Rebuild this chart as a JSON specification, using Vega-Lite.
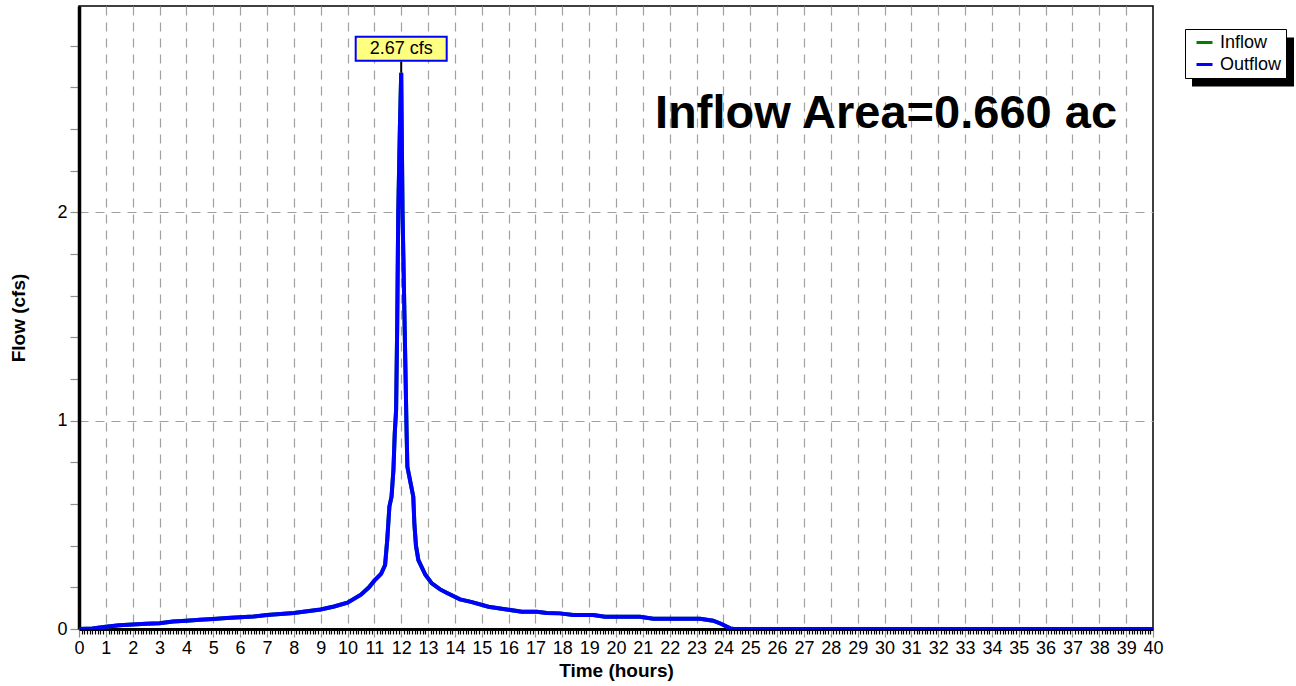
{
  "$schema": "https://vega.github.io/schema/vega-lite/v6.json",
  "width": 1074,
  "height": 623,
  "autosize": {"type": "none"},
  "padding": {"left": 79, "top": 6, "right": 143, "bottom": 57},
  "background": "white",
  "config": {
    "font": "Liberation Sans",
    "view": {"stroke": "black", "strokeWidth": 1.5}
  },
  "datasets": {
    "hydro": [
      {"t": 0, "Inflow": 0, "Outflow": 0},
      {"t": 0.5, "Inflow": 0.002, "Outflow": 0.002},
      {"t": 1, "Inflow": 0.011, "Outflow": 0.011},
      {"t": 1.5, "Inflow": 0.018, "Outflow": 0.018},
      {"t": 2, "Inflow": 0.022, "Outflow": 0.022},
      {"t": 2.5, "Inflow": 0.025, "Outflow": 0.025},
      {"t": 3, "Inflow": 0.028, "Outflow": 0.028},
      {"t": 3.5, "Inflow": 0.036, "Outflow": 0.036},
      {"t": 4, "Inflow": 0.04, "Outflow": 0.04},
      {"t": 4.5, "Inflow": 0.044, "Outflow": 0.044},
      {"t": 5, "Inflow": 0.048, "Outflow": 0.048},
      {"t": 5.5, "Inflow": 0.053, "Outflow": 0.053},
      {"t": 6, "Inflow": 0.056, "Outflow": 0.056},
      {"t": 6.5, "Inflow": 0.06, "Outflow": 0.06},
      {"t": 7, "Inflow": 0.067, "Outflow": 0.067},
      {"t": 7.5, "Inflow": 0.072, "Outflow": 0.072},
      {"t": 8, "Inflow": 0.077, "Outflow": 0.077},
      {"t": 8.5, "Inflow": 0.085, "Outflow": 0.085},
      {"t": 9, "Inflow": 0.094, "Outflow": 0.094},
      {"t": 9.5, "Inflow": 0.108, "Outflow": 0.108},
      {"t": 10, "Inflow": 0.126, "Outflow": 0.126},
      {"t": 10.5, "Inflow": 0.165, "Outflow": 0.165},
      {"t": 10.8, "Inflow": 0.2, "Outflow": 0.2},
      {"t": 11, "Inflow": 0.232, "Outflow": 0.232},
      {"t": 11.25, "Inflow": 0.265, "Outflow": 0.265},
      {"t": 11.4, "Inflow": 0.307, "Outflow": 0.307},
      {"t": 11.48, "Inflow": 0.427, "Outflow": 0.427},
      {"t": 11.56, "Inflow": 0.587, "Outflow": 0.587},
      {"t": 11.64, "Inflow": 0.635, "Outflow": 0.635},
      {"t": 11.71, "Inflow": 0.763, "Outflow": 0.763},
      {"t": 11.76, "Inflow": 0.94, "Outflow": 0.94},
      {"t": 11.81, "Inflow": 1.05, "Outflow": 1.05},
      {"t": 11.85, "Inflow": 1.45, "Outflow": 1.45},
      {"t": 11.89, "Inflow": 2.0, "Outflow": 2.0},
      {"t": 11.95, "Inflow": 2.4, "Outflow": 2.4},
      {"t": 12, "Inflow": 2.67, "Outflow": 2.67},
      {"t": 12.05, "Inflow": 2.0, "Outflow": 2.0},
      {"t": 12.1, "Inflow": 1.65, "Outflow": 1.65},
      {"t": 12.15, "Inflow": 1.3, "Outflow": 1.3},
      {"t": 12.2, "Inflow": 0.95, "Outflow": 0.95},
      {"t": 12.23, "Inflow": 0.778, "Outflow": 0.778},
      {"t": 12.45, "Inflow": 0.635, "Outflow": 0.635},
      {"t": 12.49, "Inflow": 0.507, "Outflow": 0.507},
      {"t": 12.55, "Inflow": 0.4, "Outflow": 0.4},
      {"t": 12.64, "Inflow": 0.331, "Outflow": 0.331},
      {"t": 12.9, "Inflow": 0.26, "Outflow": 0.26},
      {"t": 13.14, "Inflow": 0.219, "Outflow": 0.219},
      {"t": 13.45, "Inflow": 0.19, "Outflow": 0.19},
      {"t": 13.69, "Inflow": 0.174, "Outflow": 0.174},
      {"t": 14.19, "Inflow": 0.142, "Outflow": 0.142},
      {"t": 14.6, "Inflow": 0.13, "Outflow": 0.13},
      {"t": 15.25, "Inflow": 0.107, "Outflow": 0.107},
      {"t": 15.93, "Inflow": 0.094, "Outflow": 0.094},
      {"t": 16.49, "Inflow": 0.083, "Outflow": 0.083},
      {"t": 17.05, "Inflow": 0.083, "Outflow": 0.083},
      {"t": 17.42, "Inflow": 0.077, "Outflow": 0.077},
      {"t": 17.91, "Inflow": 0.075, "Outflow": 0.075},
      {"t": 18.41, "Inflow": 0.067, "Outflow": 0.067},
      {"t": 19.15, "Inflow": 0.067, "Outflow": 0.067},
      {"t": 19.59, "Inflow": 0.059, "Outflow": 0.059},
      {"t": 20.89, "Inflow": 0.059, "Outflow": 0.059},
      {"t": 21.39, "Inflow": 0.049, "Outflow": 0.049},
      {"t": 23.13, "Inflow": 0.049, "Outflow": 0.049},
      {"t": 23.62, "Inflow": 0.04, "Outflow": 0.04},
      {"t": 23.93, "Inflow": 0.024, "Outflow": 0.024},
      {"t": 24.25, "Inflow": 0.003, "Outflow": 0.003},
      {"t": 24.4, "Inflow": 0, "Outflow": 0},
      {"t": 40, "Inflow": 0, "Outflow": 0}
    ],
    "peak": [{"t": 12, "Q": 2.67, "label": "2.67 cfs"}],
    "shadow": []
  },
  "layer": [
    {
      "data": {"name": "shadow"},
      "mark": {"type": "point", "filled": true, "color": "black", "opacity": 1},
      "encoding": {
        "shape": {
          "field": "entry",
          "type": "nominal",
          "scale": {"domain": ["shadow"], "range": ["M-1,-0.48H1V0.48H-1Z"]},
          "legend": {
            "orient": "none",
            "legendX": 1112,
            "legendY": 4,
            "title": null,
            "padding": 0,
            "symbolSize": 10404,
            "symbolFillColor": "black",
            "symbolStrokeColor": "black",
            "symbolOpacity": 1,
            "symbolOffset": 0,
            "labelOffset": 0,
            "labelExpr": "''",
            "labelFontSize": 1,
            "zindex": 0
          }
        }
      }
    },
    {
      "data": {"name": "hydro"},
      "transform": [{"fold": ["Inflow", "Outflow"], "as": ["series", "Q"]}],
      "mark": {"type": "line", "strokeWidth": 4, "clip": true},
      "encoding": {
        "x": {
          "field": "t",
          "type": "quantitative",
          "scale": {"domain": [0, 40], "nice": false, "zero": false},
          "axis": {
            "values": [0,0.1,0.2,0.3,0.4,0.5,0.6,0.7,0.8,0.9,1,1.1,1.2,1.3,1.4,1.5,1.6,1.7,1.8,1.9,2,2.1,2.2,2.3,2.4,2.5,2.6,2.7,2.8,2.9,3,3.1,3.2,3.3,3.4,3.5,3.6,3.7,3.8,3.9,4,4.1,4.2,4.3,4.4,4.5,4.6,4.7,4.8,4.9,5,5.1,5.2,5.3,5.4,5.5,5.6,5.7,5.8,5.9,6,6.1,6.2,6.3,6.4,6.5,6.6,6.7,6.8,6.9,7,7.1,7.2,7.3,7.4,7.5,7.6,7.7,7.8,7.9,8,8.1,8.2,8.3,8.4,8.5,8.6,8.7,8.8,8.9,9,9.1,9.2,9.3,9.4,9.5,9.6,9.7,9.8,9.9,10,10.1,10.2,10.3,10.4,10.5,10.6,10.7,10.8,10.9,11,11.1,11.2,11.3,11.4,11.5,11.6,11.7,11.8,11.9,12,12.1,12.2,12.3,12.4,12.5,12.6,12.7,12.8,12.9,13,13.1,13.2,13.3,13.4,13.5,13.6,13.7,13.8,13.9,14,14.1,14.2,14.3,14.4,14.5,14.6,14.7,14.8,14.9,15,15.1,15.2,15.3,15.4,15.5,15.6,15.7,15.8,15.9,16,16.1,16.2,16.3,16.4,16.5,16.6,16.7,16.8,16.9,17,17.1,17.2,17.3,17.4,17.5,17.6,17.7,17.8,17.9,18,18.1,18.2,18.3,18.4,18.5,18.6,18.7,18.8,18.9,19,19.1,19.2,19.3,19.4,19.5,19.6,19.7,19.8,19.9,20,20.1,20.2,20.3,20.4,20.5,20.6,20.7,20.8,20.9,21,21.1,21.2,21.3,21.4,21.5,21.6,21.7,21.8,21.9,22,22.1,22.2,22.3,22.4,22.5,22.6,22.7,22.8,22.9,23,23.1,23.2,23.3,23.4,23.5,23.6,23.7,23.8,23.9,24,24.1,24.2,24.3,24.4,24.5,24.6,24.7,24.8,24.9,25,25.1,25.2,25.3,25.4,25.5,25.6,25.7,25.8,25.9,26,26.1,26.2,26.3,26.4,26.5,26.6,26.7,26.8,26.9,27,27.1,27.2,27.3,27.4,27.5,27.6,27.7,27.8,27.9,28,28.1,28.2,28.3,28.4,28.5,28.6,28.7,28.8,28.9,29,29.1,29.2,29.3,29.4,29.5,29.6,29.7,29.8,29.9,30,30.1,30.2,30.3,30.4,30.5,30.6,30.7,30.8,30.9,31,31.1,31.2,31.3,31.4,31.5,31.6,31.7,31.8,31.9,32,32.1,32.2,32.3,32.4,32.5,32.6,32.7,32.8,32.9,33,33.1,33.2,33.3,33.4,33.5,33.6,33.7,33.8,33.9,34,34.1,34.2,34.3,34.4,34.5,34.6,34.7,34.8,34.9,35,35.1,35.2,35.3,35.4,35.5,35.6,35.7,35.8,35.9,36,36.1,36.2,36.3,36.4,36.5,36.6,36.7,36.8,36.9,37,37.1,37.2,37.3,37.4,37.5,37.6,37.7,37.8,37.9,38,38.1,38.2,38.3,38.4,38.5,38.6,38.7,38.8,38.9,39,39.1,39.2,39.3,39.4,39.5,39.6,39.7,39.8,39.9,40],
            "tickCount": 1000,
            "labelExpr": "datum.value % 1 === 0 ? format(datum.value, 'd') : ''",
            "labelOverlap": false,
            "labelFontSize": 18,
            "labelColor": "black",
            "labelPadding": 2,
            "labelFlush": false,
            "grid": true,
            "gridColor": "#a0a0a0",
            "gridDash": [9, 7],
            "gridWidth": 1.2,
            "gridOpacity": {"condition": {"test": "datum.value % 1 === 0 && datum.value > 0 && datum.value < 40", "value": 1}, "value": 0},
            "tickColor": {"condition": {"test": "datum.value % 1 === 0", "value": "#909090"}, "value": "black"},
            "tickSize": {"condition": {"test": "datum.value % 1 === 0", "value": 8}, "value": 5},
            "tickWidth": 1.2,
            "domainColor": "black",
            "domainWidth": 3,
            "title": "Time  (hours)",
            "titleFontSize": 19,
            "titleFontWeight": "bold",
            "titleColor": "black",
            "titlePadding": 4
          }
        },
        "y": {
          "field": "Q",
          "type": "quantitative",
          "scale": {"domain": [0, 2.99], "nice": false, "zero": true},
          "axis": {
            "values": [0, 0.2, 0.4, 0.6, 0.8, 1, 1.2, 1.4, 1.6, 1.8, 2, 2.2, 2.4, 2.6, 2.8],
            "tickCount": 1000,
            "labelExpr": "datum.value % 1 === 0 ? format(datum.value, 'd') : ''",
            "labelOverlap": false,
            "labelFontSize": 18,
            "labelColor": "black",
            "labelPadding": 3,
            "labelFlush": false,
            "grid": true,
            "gridColor": "#a0a0a0",
            "gridDash": [9, 7],
            "gridWidth": 1.2,
            "gridOpacity": {"condition": {"test": "datum.value % 1 === 0 && datum.value > 0", "value": 1}, "value": 0},
            "tickColor": "#909090",
            "tickSize": 9,
            "tickWidth": 1.2,
            "domainColor": "black",
            "domainWidth": 3.5,
            "title": "Flow  (cfs)",
            "titleFontSize": 19,
            "titleFontWeight": "bold",
            "titleColor": "black",
            "titlePadding": 28
          }
        },
        "color": {
          "field": "series",
          "type": "nominal",
          "scale": {"domain": ["Inflow", "Outflow"], "range": ["#008000", "#0000ff"]},
          "legend": {
            "orient": "none",
            "legendX": 1106,
            "legendY": 23,
            "title": null,
            "fillColor": "white",
            "strokeColor": "black",
            "padding": 4,
            "symbolType": "stroke",
            "symbolStrokeWidth": 3,
            "symbolSize": 256,
            "labelFontSize": 18,
            "labelColor": "black",
            "symbolOffset": 6,
            "labelOffset": 6,
            "rowPadding": 3,
            "zindex": 1
          }
        }
      }
    },
    {
      "data": {"name": "peak"},
      "mark": {"type": "rule", "color": "black", "strokeWidth": 2, "y2Offset": -11},
      "encoding": {
        "x": {"field": "t", "type": "quantitative"},
        "y": {"field": "Q", "type": "quantitative"},
        "y2": {"field": "Q"}
      }
    },
    {
      "data": {"name": "peak"},
      "mark": {
        "type": "point",
        "shape": "M-1,-0.264H1V0.264H-1Z",
        "size": 8281,
        "filled": true,
        "fill": "#ffff80",
        "stroke": "#0000ff",
        "strokeWidth": 2,
        "opacity": 1,
        "fillOpacity": 1,
        "strokeOpacity": 1,
        "yOffset": -24
      },
      "encoding": {
        "x": {"field": "t", "type": "quantitative"},
        "y": {"field": "Q", "type": "quantitative"}
      }
    },
    {
      "data": {"name": "peak"},
      "mark": {"type": "text", "fontSize": 18, "color": "black", "align": "center", "baseline": "middle", "yOffset": -24},
      "encoding": {
        "x": {"field": "t", "type": "quantitative"},
        "y": {"field": "Q", "type": "quantitative"},
        "text": {"field": "label"}
      }
    },
    {
      "data": {"values": [{"note": "Inflow Area=0.660 ac"}]},
      "mark": {"type": "text", "fontSize": 47, "fontWeight": "bold", "color": "black", "align": "right", "baseline": "alphabetic"},
      "encoding": {
        "x": {"datum": 38.66, "type": "quantitative"},
        "y": {"datum": 2.403, "type": "quantitative"},
        "text": {"field": "note"}
      }
    }
  ]
}
